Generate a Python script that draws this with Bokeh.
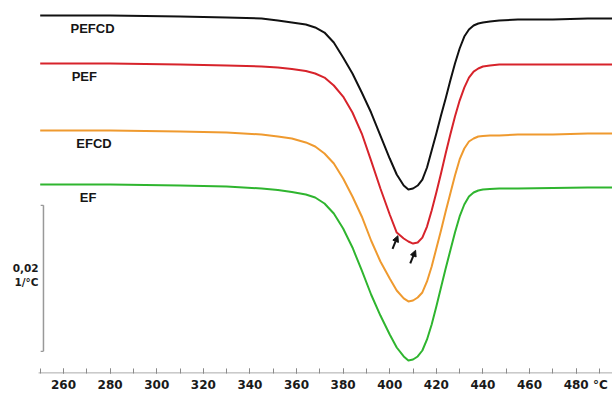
import numpy as np
from bokeh.plotting import figure
from bokeh.models import Range1d, FixedTicker, Arrow, NormalHead, ColumnDataSource
from bokeh.core.properties import value
from bokeh.embed import file_html
from bokeh.resources import INLINE

# ---------------- data (DTG in 1e-3 1/°C, relative to each curve's baseline) ----
temps = [250, 280, 310, 330, 345, 352, 358, 364, 368, 372, 376, 380, 384, 388,
         392, 396, 400, 403, 406, 408, 410, 412, 414, 416, 418, 420, 422, 424,
         426, 428, 430, 432, 434, 436, 438, 440, 443, 447, 455, 470, 485, 496]
pefcd = [0, 0, -0.14, -0.27, -0.41, -0.68, -0.96, -1.23, -1.64, -2.33, -3.70,
         -5.75, -7.95, -10.55, -13.29, -16.44, -19.59, -21.78, -23.29, -23.84,
         -23.70, -23.29, -22.47, -20.82, -18.49, -16.16, -13.70, -11.37, -8.90,
         -6.58, -4.52, -2.88, -1.92, -1.37, -1.10, -0.96, -0.82, -0.68, -0.55,
         -0.55, -0.41, -0.41]
pef = [0, 0, -0.14, -0.27, -0.41, -0.55, -0.75, -1.03, -1.37, -1.92, -3.01,
       -4.52, -6.71, -9.59, -13.29, -17.12, -20.68, -23.15, -23.97, -24.38,
       -24.66, -24.52, -23.84, -22.33, -20.14, -17.67, -15.07, -12.33, -9.73,
       -7.26, -5.07, -3.29, -1.92, -1.10, -0.68, -0.41, -0.27, -0.14, -0.14,
       -0.14, -0.14, -0.14]
efcd = [0, 0, -0.14, -0.27, -0.55, -0.82, -1.10, -1.64, -2.19, -3.15, -4.52,
        -6.58, -9.04, -11.78, -15.07, -17.95, -20.27, -21.92, -23.01, -23.42,
        -23.29, -22.88, -22.19, -20.68, -18.63, -16.16, -13.70, -11.10, -8.63,
        -6.16, -3.97, -2.47, -1.51, -1.10, -0.82, -0.75, -0.68, -0.68, -0.55,
        -0.55, -0.41, -0.41]
ef = [0, 0, -0.14, -0.27, -0.55, -0.75, -1.03, -1.37, -1.78, -2.60, -3.97,
      -6.03, -8.63, -11.78, -15.07, -17.95, -20.55, -22.33, -23.56, -24.11,
      -23.97, -23.56, -22.74, -21.23, -19.18, -16.71, -14.11, -11.51, -9.04,
      -6.58, -4.38, -2.74, -1.64, -1.10, -0.82, -0.68, -0.62, -0.55, -0.55,
      -0.48, -0.41, -0.41]
series_names = ["PEFCD", "PEF", "EFCD", "EF"]
offsets = [0.0, -6.58, -15.75, -23.15]          # vertical stacking, 1e-3 1/°C
colors = ["#111111", "#d7232b", "#ef9a2f", "#2fb52f"]
label_T = [263.0, 263.5, 265.5, 267.0]
major_ticks = [260, 280, 300, 320, 340, 360, 380, 400, 420, 440, 460, 480]
minor_ticks = list(range(250, 500, 10))
tick_labels = {t: str(t) for t in major_ticks}
tick_labels[480] = "\u2007\u2007\u2009480 °C"
scale_value = 0.02        # 1/°C
scale_top = -0.026
scale_T = 251.4
unit = 1e-3

series = [pefcd, pef, efcd, ef]

p = figure(width=612, height=394, output_backend="svg", toolbar_location=None,
           x_range=Range1d(232.96, 495.6), y_range=Range1d(-0.049041, 0.002055),
           y_axis_location=None, min_border_left=0, min_border_right=0,
           min_border_top=0, min_border_bottom=21)
p.outline_line_color = None
p.grid.visible = False
p.background_fill_color = "white"
p.border_fill_color = "white"

for vals, off, col in zip(series, offsets, colors):
    y = (np.array(vals) + off) * unit
    p.line(temps, y, line_color=col, line_width=2, line_join="round")

# curve labels
src = ColumnDataSource(dict(x=label_T, y=[o * unit for o in offsets], t=series_names))
p.text(x="x", y="y", text="t", source=src, y_offset=13, text_baseline="middle",
       text_align="left", text_font=value("Liberation Sans"), text_font_style="bold",
       text_font_size="13px", text_color="#151515")

# x axis
ax = p.xaxis[0]
ax.ticker = FixedTicker(ticks=major_ticks, minor_ticks=minor_ticks)
ax.major_label_overrides = tick_labels
ax.axis_line_color = None
ax.major_tick_in = 5
ax.major_tick_out = 0
ax.minor_tick_in = 5
ax.minor_tick_out = 0
ax.major_tick_line_color = "#8a8a8a"
ax.minor_tick_line_color = "#8a8a8a"
ax.major_label_standoff = 4
ax.major_label_text_font = "DejaVu Sans"
ax.major_label_text_font_style = "bold"
ax.major_label_text_font_size = "12px"
ax.major_label_text_color = "#1a1a1a"
y0 = p.y_range.start
p.segment(x0=[249.3], y0=[y0 + 0.00006], x1=[p.x_range.end], y1=[y0 + 0.00006],
          line_color="#8a8a8a", line_width=1)

# scale bar
sb_bottom = scale_top - scale_value
p.segment(x0=[scale_T], y0=[scale_top], x1=[scale_T], y1=[sb_bottom],
          line_color="#999999", line_width=1.5)
p.segment(x0=[scale_T - 1.2, scale_T - 1.2], y0=[scale_top, sb_bottom],
          x1=[scale_T, scale_T], y1=[scale_top, sb_bottom],
          line_color="#999999", line_width=1.2)
mid = scale_top - scale_value / 2
p.text(x=[scale_T - 2.1, scale_T - 2.1], y=[mid, mid], text=["0,02", "1/°C"],
       y_offset=[-10, 4], text_align="right", text_baseline="middle",
       text_font=value("DejaVu Sans"), text_font_style="bold",
       text_font_size="10.5px", text_color="#1a1a1a")

# arrows pointing at the PEF shoulder and minimum
red = (np.array(pef) + offsets[1]) * unit
arrow_T = [403.5, 411.1]
arrow_gap = [0.0003, 0.0010]
for aT, gap in zip(arrow_T, arrow_gap):
    tip_y = np.interp(aT, temps, red) - gap
    p.add_layout(Arrow(end=NormalHead(size=6, fill_color="#111111", line_color="#111111"),
                       x_start=aT - 2.3, y_start=tip_y - 0.0018, x_end=aT, y_end=tip_y,
                       line_color="#111111", line_width=2))

open("out.html", "w").write(file_html(p, INLINE))
